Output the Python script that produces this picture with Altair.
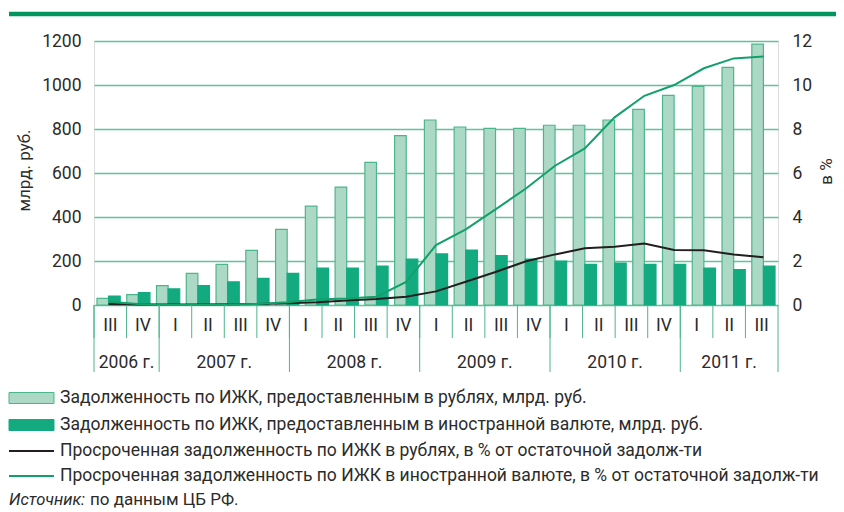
import altair as alt
import pandas as pd

# ---- data ----
quarter_idx = list(range(23))
rub_debt = [30, 47, 88, 144, 185, 248, 344, 449, 536, 648, 770, 841, 809, 803, 803,
            817, 817, 841, 889, 953, 994, 1080, 1186]
fx_debt = [41, 56, 73, 88, 105, 121, 144, 168, 168, 177, 209, 232, 250, 224, 209,
           200, 185, 191, 185, 185, 168, 161, 177]
overdue_rub = [0.05, 0.02, 0.02, 0.02, 0.03, 0.05, 0.08, 0.12, 0.2, 0.27, 0.38, 0.62,
               1.06, 1.5, 1.98, 2.3, 2.58, 2.65, 2.79, 2.5, 2.49, 2.3, 2.17]
overdue_fx = [0.15, 0.05, 0.0, 0.0, 0.02, 0.05, 0.12, 0.25, 0.3, 0.38, 1.05, 2.72,
              3.44, 4.35, 5.27, 6.33, 7.12, 8.53, 9.51, 10.0, 10.76, 11.21, 11.29]

quarter_labels = ["III", "IV", "I", "II", "III", "IV", "I", "II", "III", "IV",
                  "I", "II", "III", "IV", "I", "II", "III", "IV", "I", "II", "III"]
years = ["2006 г.", "2007 г.", "2008 г.", "2009 г.", "2010 г.", "2011 г."]
quarters_per_year = [2, 4, 4, 4, 4, 3]

series_names = [
    "Задолженность по ИЖК, предоставленным в рублях, млрд. руб.",
    "Задолженность по ИЖК, предоставленным в иностранной валюте, млрд. руб.",
    "Просроченная задолженность по ИЖК в рублях, в % от остаточной задолж-ти",
    "Просроченная задолженность по ИЖК в иностранной валюте, в % от остаточной задолж-ти",
]
source_italic = "Источник:"
source_rest = "по данным ЦБ РФ."

LIGHT = "#acd9c5"
LIGHT_STROKE = "#4db58d"
DARK = "#13aa7f"
BLACK = "#231f20"
GREEN = "#12a06b"
GRID = "#62c29c"
TEXT = "#2b2b2b"
FONT = "Roboto"

# ---- tables ----
bars_df = pd.DataFrame({
    "q": quarter_idx * 2,
    "series": ["rub"] * 23 + ["fx"] * 23,
    "value": rub_debt + fx_debt,
})
lines_df = pd.DataFrame({
    "q": quarter_idx * 2,
    "series": ["rub"] * 23 + ["fx"] * 23,
    "pct": overdue_rub + overdue_fx,
})

n_cells = len(quarter_labels)
cells_df = pd.DataFrame({
    "label": quarter_labels,
    "mid": [i + 0.5 for i in range(n_cells)],
    "pos": list(range(n_cells)),
})
bounds = [0]
for c in quarters_per_year:
    bounds.append(bounds[-1] + c)
years_df = pd.DataFrame({
    "year": years,
    "mid": [(bounds[i] + bounds[i + 1]) / 2 for i in range(len(years))],
})
year_bounds_df = pd.DataFrame({"pos": bounds})

one = pd.DataFrame({"a": [0]})

x_band = alt.Scale(type="band", domain=quarter_idx, paddingInner=0.22, paddingOuter=0.1)

left_axis = alt.Axis(
    title="млрд. руб.", values=[0, 200, 400, 600, 800, 1000, 1200], format="d", grid=True,
    gridColor=GRID, gridWidth=1.4, domain=False, ticks=False, labelPadding=13,
    labelFontSize=17.5, labelColor=TEXT, labelFont=FONT,
    titleFontSize=17, titleFontWeight="normal", titleFont=FONT, titleColor=TEXT,
    titleAngle=270, titleX=-70, titleY=129, titleAlign="center", titleBaseline="middle",
)
right_axis = alt.Axis(
    title="в %", orient="right", values=[0, 2, 4, 6, 8, 10, 12], grid=False,
    domain=False, ticks=False, labelPadding=14, labelFontSize=17.5, labelColor=TEXT,
    labelFont=FONT, titleFontSize=17, titleFontWeight="normal", titleFont=FONT,
    titleColor=TEXT, titleAngle=270, titleX=48, titleY=130, titleAlign="center",
    titleBaseline="middle",
)

bars = alt.Chart(bars_df).mark_bar(strokeWidth=1.2).encode(
    x=alt.X("q:O", scale=x_band, axis=None),
    xOffset=alt.XOffset("series:N", scale=alt.Scale(domain=["rub", "fx"], paddingInner=0, paddingOuter=0)),
    y=alt.Y("value:Q", scale=alt.Scale(domain=[0, 1200], nice=False), axis=left_axis),
    fill=alt.Fill("series:N", scale=alt.Scale(domain=["rub", "fx"], range=[LIGHT, DARK]), legend=None),
    stroke=alt.Stroke("series:N", scale=alt.Scale(domain=["rub", "fx"], range=[LIGHT_STROKE, DARK]), legend=None),
)

lines = alt.Chart(lines_df).mark_line(strokeWidth=2).encode(
    x=alt.X("q:O", scale=x_band, axis=None, bandPosition=0.5),
    y=alt.Y("pct:Q", scale=alt.Scale(domain=[0, 12], nice=False), axis=right_axis),
    color=alt.Color("series:N", scale=alt.Scale(domain=["rub", "fx"], range=[BLACK, GREEN]), legend=None),
    detail="series:N",
)

plot = alt.layer(bars, lines).resolve_scale(y="independent", color="independent")

x_cells = alt.Scale(domain=[0, n_cells], nice=False, zero=False)

q_seps = alt.Chart(cells_df).mark_rule(color=LIGHT_STROKE, strokeWidth=1).encode(
    x=alt.X("pos:Q", scale=x_cells, axis=None),
    y=alt.value(264), y2=alt.value(297),
)
y_seps = alt.Chart(year_bounds_df).mark_rule(color=LIGHT_STROKE, strokeWidth=1).encode(
    x=alt.X("pos:Q", scale=x_cells, axis=None),
    y=alt.value(264), y2=alt.value(331),
)
q_text = alt.Chart(cells_df).mark_text(font=FONT, fontSize=17.5, color=TEXT, baseline="middle").encode(
    x=alt.X("mid:Q", scale=x_cells, axis=None),
    y=alt.value(285), text="label:N",
)
y_text = alt.Chart(years_df).mark_text(font=FONT, fontSize=17.5, color=TEXT, baseline="middle").encode(
    x=alt.X("mid:Q", scale=x_cells, axis=None),
    y=alt.value(322), text="year:N",
)

top_band = alt.Chart(one).mark_rule(color="#00965e", strokeWidth=4.5).encode(
    x=alt.value(-85), x2=alt.value(742), y=alt.value(-27),
)

sw1 = alt.Chart(one).mark_rect(fill=LIGHT, stroke=LIGHT_STROKE, strokeWidth=1).encode(
    x=alt.value(-85), x2=alt.value(-40), y=alt.value(351.5), y2=alt.value(362.5))
sw2 = alt.Chart(one).mark_rect(fill=DARK, stroke=DARK, strokeWidth=1).encode(
    x=alt.value(-85), x2=alt.value(-40), y=alt.value(378.5), y2=alt.value(389.5))
ln1 = alt.Chart(one).mark_rule(color=BLACK, strokeWidth=2).encode(
    x=alt.value(-85), x2=alt.value(-40), y=alt.value(410))
ln2 = alt.Chart(one).mark_rule(color=GREEN, strokeWidth=2).encode(
    x=alt.value(-85), x2=alt.value(-40), y=alt.value(435))

legend_texts = []
for name, yy in zip(series_names, [357, 384, 410, 435]):
    legend_texts.append(
        alt.Chart(one).mark_text(font=FONT, fontSize=17.5, color=TEXT, align="left", baseline="middle").encode(
            x=alt.value(-34), y=alt.value(yy), text=alt.value(name))
    )
src1 = alt.Chart(one).mark_text(font=FONT, fontSize=16.5, color=TEXT, align="left", baseline="middle", fontStyle="italic").encode(
    x=alt.value(-85), y=alt.value(459), text=alt.value(source_italic))
src2 = alt.Chart(one).mark_text(font=FONT, fontSize=17, color=TEXT, align="left", baseline="middle").encode(
    x=alt.value(-4), y=alt.value(459), text=alt.value(source_rest))

chart = alt.layer(
    plot, q_seps, y_seps, q_text, y_text, top_band, sw1, sw2, ln1, ln2, *legend_texts, src1, src2
).resolve_scale(x="independent", y="independent").properties(
    width=684, height=264,
    autosize=alt.AutoSizeParams(type="none"),
    padding={"left": 86, "top": 33, "right": 58, "bottom": 205},
).configure_view(stroke=None).configure(background="white")

chart.save("out.html", embed_options={"renderer": "svg", "actions": False})
